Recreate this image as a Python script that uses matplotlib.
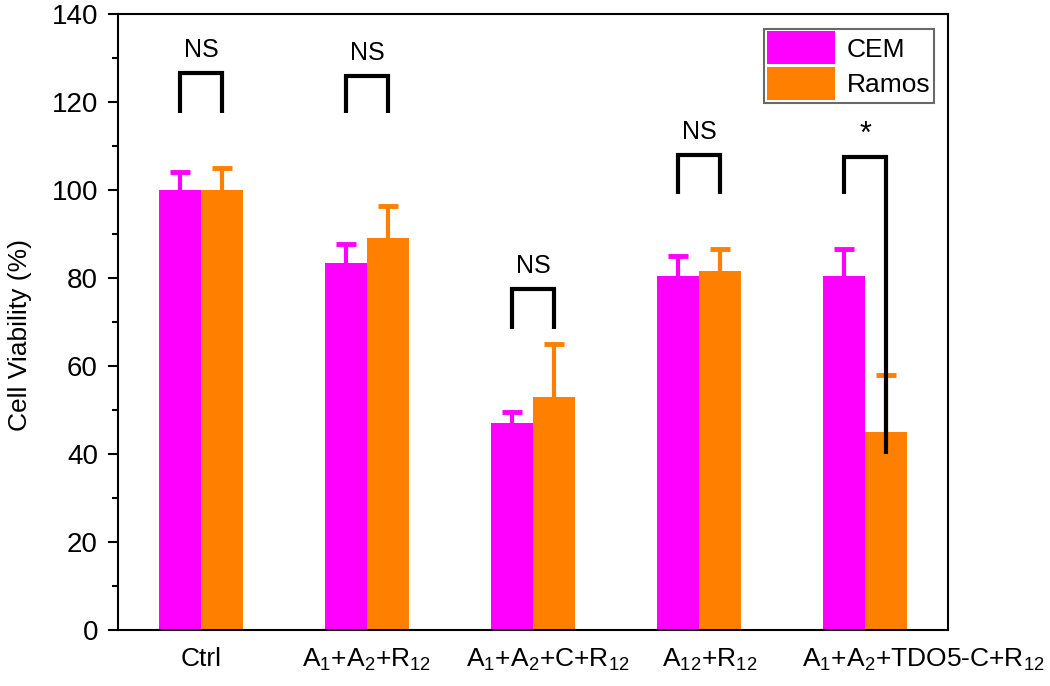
import matplotlib
matplotlib.use("Agg")
import matplotlib.pyplot as plt
import matplotlib.transforms as mtransforms
import numpy as np
from matplotlib.ticker import MultipleLocator

plt.rcParams['font.family'] = ['Liberation Sans', 'DejaVu Sans']
plt.rcParams['mathtext.fontset'] = 'custom'
plt.rcParams['mathtext.rm'] = 'Liberation Sans'
plt.rcParams['mathtext.it'] = 'Liberation Sans'

categories = ["Ctrl",
              r"A$_1$+A$_2$+R$_{12}$",
              r"A$_1$+A$_2$+C+R$_{12}$",
              r"A$_{12}$+R$_{12}$",
              r"A$_1$+A$_2$+TDO5-C+R$_{12}$"]
cem = [100, 83.5, 47, 80.5, 80.5]
cem_err = [4, 4.2, 2.5, 4.5, 6.2]
ramos = [100, 89, 53, 81.5, 45]
ramos_err = [5, 7.3, 12, 5.2, 13]
sig_labels = ["NS", "NS", "NS", "NS", "*"]
bracket_top = [126.5, 126, 77.5, 108, 107.5]
bracket_left_bottom = [117.5, 117.5, 68.5, 99, 99]
bracket_right_bottom = [117.5, 117.5, 68.5, 99, 40]

fig = plt.figure(figsize=(10.5, 6.86), dpi=100)
ax = fig.add_axes([0.1124, 0.0816, 0.7906, 0.898])

x = np.arange(len(categories))
w = 0.255
c1, c2 = '#FF00FF', '#FF8000'

for offs, vals, errs, col, lab in [(-w/2, cem, cem_err, c1, 'CEM'),
                                   (w/2, ramos, ramos_err, c2, 'Ramos')]:
    xp = x + offs
    vals = np.array(vals)
    errs = np.array(errs)
    ax.bar(xp, vals, w, color=col, label=lab, zorder=2)
    ax.errorbar(xp, vals, yerr=[np.zeros(len(vals)), errs], fmt='none',
                ecolor=col, elinewidth=3, capsize=0, zorder=1)
    ax.plot(xp, vals + errs, ls='none', marker='_', ms=15, mew=3.5,
            color=col, zorder=1)

for i in range(len(categories)):
    xl, xr = x[i] - w/2, x[i] + w/2
    ax.plot([xl, xl, xr, xr],
            [bracket_left_bottom[i], bracket_top[i], bracket_top[i], bracket_right_bottom[i]],
            color='black', lw=3, solid_joinstyle='miter', solid_capstyle='butt', zorder=3)
    if sig_labels[i] == '*':
        ax.text(x[i], bracket_top[i] + 1.5, sig_labels[i], ha='center', va='bottom',
                fontsize=22)
    else:
        ax.text(x[i], bracket_top[i] + 2.5, sig_labels[i], ha='center', va='bottom',
                fontsize=18)

ax.set_xlim(-0.5, 4.5)
ax.set_ylim(0, 140)
ax.yaxis.set_major_locator(MultipleLocator(20))
ax.yaxis.set_minor_locator(MultipleLocator(10))
ax.set_xticks(x)
ax.set_xticklabels(categories, fontsize=19)
ax.tick_params(axis='x', length=0, pad=12)
ax.tick_params(axis='y', which='major', direction='out', length=7.5, width=1.5,
               labelsize=20, pad=7)
ax.tick_params(axis='y', which='minor', direction='out', length=4, width=1.5)
ax.set_ylabel('Cell Viability (%)', fontsize=19)
ax.yaxis.set_label_coords(-0.104, 0.479)
for s in ax.spines.values():
    s.set_linewidth(1.5)

# horizontal shifts of the category labels (pixels) as in the reference
label_shift_px = [0, 0, 15, 11, 58]
for lbl, dx in zip(ax.get_xticklabels(), label_shift_px):
    lbl.set_transform(lbl.get_transform() +
                      mtransforms.ScaledTranslation(dx / 100, 0, fig.dpi_scale_trans))

leg = ax.legend(loc='upper right', fontsize=19, frameon=True, fancybox=False,
                edgecolor='#444444', handlelength=2.6, handleheight=1.55,
                handletextpad=0.45, borderpad=0.11, labelspacing=0.1,
                borderaxespad=0.55)
leg.get_frame().set_linewidth(1.5)

fig.savefig('out.png', dpi=100)
